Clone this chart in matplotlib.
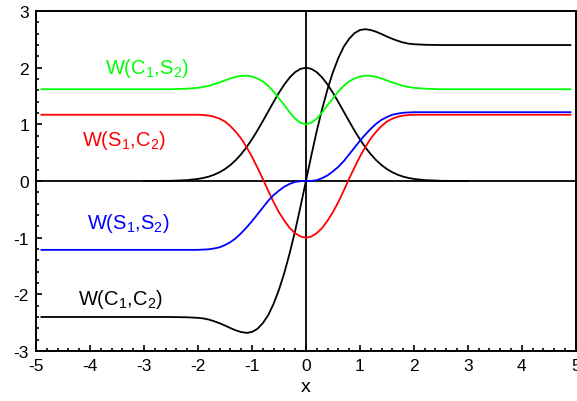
import matplotlib
matplotlib.use("Agg")
import matplotlib.pyplot as plt
from matplotlib.ticker import MultipleLocator

plt.rcParams["font.family"] = ["Liberation Sans", "DejaVu Sans"]
plt.rcParams["mathtext.fontset"] = "custom"
plt.rcParams["mathtext.rm"] = "Liberation Sans"
plt.rcParams["mathtext.it"] = "Liberation Sans"
plt.rcParams["axes.unicode_minus"] = False

# abscissa shared by the four W curves
x = [-4.9, -4.0, -3.0, -2.5, -2.2,
     -2.0, -1.9, -1.8, -1.7, -1.6, -1.5, -1.4, -1.3, -1.2, -1.1,
     -1.0, -0.9, -0.8, -0.7, -0.6, -0.5, -0.4, -0.3, -0.2, -0.1,
     0.0, 0.1, 0.2, 0.3, 0.4, 0.5, 0.6, 0.7, 0.8, 0.9,
     1.0, 1.1, 1.2, 1.3, 1.4, 1.5, 1.6, 1.7, 1.8, 1.9, 2.0,
     2.2, 2.5, 3.0, 4.0, 4.9]

w_c1c2 = [-2.40, -2.40, -2.40, -2.40, -2.405,
          -2.415, -2.425, -2.445, -2.475, -2.51, -2.55, -2.595, -2.635, -2.665, -2.68,
          -2.665, -2.61, -2.51, -2.37, -2.17, -1.92, -1.62, -1.27, -0.88, -0.45,
          0.00, 0.45, 0.88, 1.27, 1.62, 1.92, 2.17, 2.37, 2.51, 2.61,
          2.665, 2.68, 2.665, 2.635, 2.595, 2.55, 2.51, 2.475, 2.445, 2.425, 2.415,
          2.405, 2.40, 2.40, 2.40, 2.40]

w_c1s2 = [1.62, 1.62, 1.62, 1.62, 1.63,
          1.645, 1.66, 1.68, 1.71, 1.74, 1.775, 1.81, 1.84, 1.855, 1.86,
          1.845, 1.81, 1.76, 1.68, 1.58, 1.46, 1.34, 1.21, 1.10, 1.03,
          1.00, 1.03, 1.10, 1.21, 1.34, 1.46, 1.58, 1.68, 1.76, 1.81,
          1.845, 1.86, 1.855, 1.84, 1.81, 1.775, 1.74, 1.71, 1.68, 1.66, 1.645,
          1.63, 1.62, 1.62, 1.62, 1.62]

w_s1c2 = [1.17, 1.17, 1.17, 1.17, 1.17,
          1.17, 1.165, 1.155, 1.135, 1.10, 1.05, 0.97, 0.87, 0.75, 0.60,
          0.43, 0.24, 0.04, -0.17, -0.37, -0.55, -0.70, -0.83, -0.92, -0.98,
          -1.00, -0.98, -0.92, -0.83, -0.70, -0.55, -0.37, -0.17, 0.04, 0.24,
          0.43, 0.60, 0.75, 0.87, 0.97, 1.05, 1.10, 1.135, 1.155, 1.165, 1.17,
          1.17, 1.17, 1.17, 1.17, 1.17]

w_s1s2 = [-1.215, -1.215, -1.215, -1.215, -1.215,
          -1.215, -1.21, -1.205, -1.19, -1.17, -1.13, -1.08, -1.01, -0.92, -0.82,
          -0.71, -0.59, -0.47, -0.35, -0.25, -0.17, -0.10, -0.05, -0.015, -0.002,
          0.00, 0.002, 0.015, 0.05, 0.10, 0.17, 0.25, 0.35, 0.47, 0.59,
          0.71, 0.82, 0.92, 1.01, 1.08, 1.13, 1.17, 1.19, 1.205, 1.21, 1.215,
          1.215, 1.215, 1.215, 1.215, 1.215]

# bell curve, drawn only on [-3, 3]
x_bell = [-3.0, -2.5, -2.2,
          -2.0, -1.9, -1.8, -1.7, -1.6, -1.5, -1.4, -1.3, -1.2, -1.1,
          -1.0, -0.9, -0.8, -0.7, -0.6, -0.5, -0.4, -0.3, -0.2, -0.1,
          0.0, 0.1, 0.2, 0.3, 0.4, 0.5, 0.6, 0.7, 0.8, 0.9,
          1.0, 1.1, 1.2, 1.3, 1.4, 1.5, 1.6, 1.7, 1.8, 1.9, 2.0,
          2.2, 2.5, 3.0]
bell = [0.0, 0.004, 0.016,
        0.037, 0.054, 0.078, 0.111, 0.155, 0.211, 0.282, 0.369, 0.474, 0.596,
        0.736, 0.890, 1.055, 1.225, 1.395, 1.558, 1.704, 1.828, 1.922, 1.980,
        2.000, 1.980, 1.922, 1.828, 1.704, 1.558, 1.395, 1.225, 1.055, 0.890,
        0.736, 0.596, 0.474, 0.369, 0.282, 0.211, 0.155, 0.111, 0.078, 0.054, 0.037,
        0.016, 0.004, 0.0]

fig = plt.figure(figsize=(5.77, 4.02), dpi=100)
ax = fig.add_axes([0.0624, 0.1244, 0.9356, 0.8456])

ax.axhline(0, color="black", lw=1.3, zorder=1)
ax.axvline(0, color="black", lw=1.3, zorder=1)

lw = 1.3
ax.plot(x_bell, bell, color="black", lw=lw)
ax.plot(x, w_c1c2, color="black", lw=lw)
ax.plot(x, w_c1s2, color="#00ff00", lw=lw)
ax.plot(x, w_s1c2, color="#ff0000", lw=lw)
ax.plot(x, w_s1s2, color="#0000ff", lw=lw)

fs = 14.5
ax.text(-2.95, 2.0, "W(C$_1$,S$_2$)", color="#00ff00", fontsize=fs, ha="center", va="center")
ax.text(-3.38, 0.74, "W(S$_1$,C$_2$)", color="#ff0000", fontsize=fs, ha="center", va="center")
ax.text(-3.29, -0.73, "W(S$_1$,S$_2$)", color="#0000ff", fontsize=fs, ha="center", va="center")
ax.text(-3.44, -2.08, "W(C$_1$,C$_2$)", color="black", fontsize=fs, ha="center", va="center")

ax.set_xlim(-5, 5)
ax.set_ylim(-3, 3)
ax.xaxis.set_major_locator(MultipleLocator(1))
ax.xaxis.set_minor_locator(MultipleLocator(0.2))
ax.yaxis.set_major_locator(MultipleLocator(1))
ax.yaxis.set_minor_locator(MultipleLocator(0.2))
ax.tick_params(which="both", direction="in", top=False, right=False, width=1.2, labelsize=12.5)
ax.tick_params(which="major", length=4, pad=5)
ax.tick_params(which="minor", length=2.2)
for s in ax.spines.values():
    s.set_linewidth(1.4)

ax.set_xlabel("x", fontsize=14, labelpad=4)

fig.savefig("out.png", dpi=100)
